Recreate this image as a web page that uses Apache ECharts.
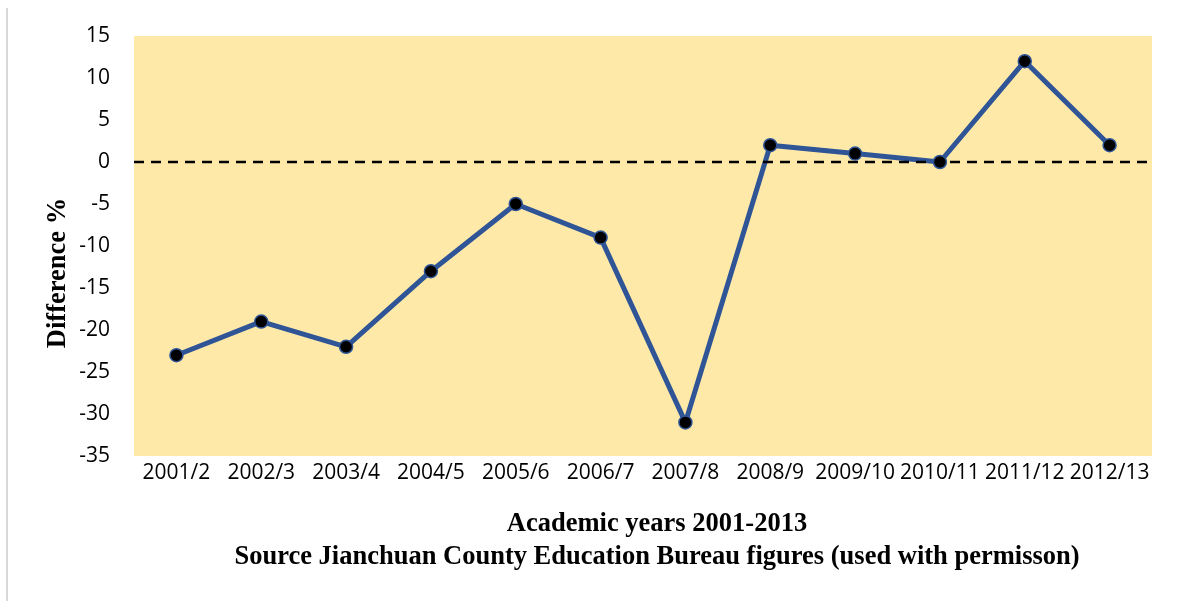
<!DOCTYPE html>
<html><head><meta charset="utf-8">
<script src="https://cdn.jsdelivr.net/npm/echarts@6/dist/echarts.min.js"></script>
<style>html,body{margin:0;padding:0;background:#fff}#c{width:1203px;height:601px}</style>
</head><body><div id="c"></div>
<script>
const categories = ["2001/2","2002/3","2003/4","2004/5","2005/6","2006/7","2007/8","2008/9","2009/10","2010/11","2011/12","2012/13"];
const differenceValues = [-23,-19,-22,-13,-5,-9,-31,2,1,0,12,2];
const referenceLine = [[0,0],[1,0]];
const yAxisTitle = "Difference %";
const xAxisTitleLines = ["Academic years 2001-2013","Source Jianchuan County Education Bureau figures (used with permisson)"];

const titleFont = 'bold 26.5px "Liberation Serif"';
const chart = echarts.init(document.getElementById('c'));
chart.setOption({
  animation:false,
  backgroundColor:'#fff',
  grid:{left:134,right:51,top:36,bottom:145,show:true,backgroundColor:'#FFE9A8',borderWidth:0},
  graphic:[
    {type:'line',shape:{x1:7,y1:8,x2:7,y2:601},style:{stroke:'#d9d9d9',lineWidth:2}},
    {type:'text',x:657,y:524,style:{text:xAxisTitleLines[0],font:titleFont,fill:'#000',align:'center',verticalAlign:'middle'}},
    {type:'text',x:657,y:557,style:{text:xAxisTitleLines[1],font:titleFont,fill:'#000',align:'center',verticalAlign:'middle'}},
    {type:'text',x:58,y:273,rotation:Math.PI/2,style:{text:yAxisTitle,font:titleFont,fill:'#000',align:'center',verticalAlign:'middle'}}
  ],
  xAxis:[
    {type:'category',data:categories,boundaryGap:true,
      axisLine:{show:false},axisTick:{show:false},
      axisLabel:{color:'#000',fontFamily:'Open Sans',fontSize:21,margin:7,interval:0}},
    {type:'value',min:0,max:1,show:false}
  ],
  yAxis:{type:'value',min:-35,max:15,interval:5,
    axisLine:{show:false},axisTick:{show:false},splitLine:{show:false},
    axisLabel:{color:'#000',fontFamily:'Open Sans',fontSize:21,margin:24}},
  series:[
    {type:'line',data:differenceValues,showSymbol:false,
      lineStyle:{color:'#2F5597',width:5},z:2},
    {type:'line',xAxisIndex:1,data:referenceLine,showSymbol:false,
      lineStyle:{color:'#000',type:[10,7],width:2.5},z:3},
    {type:'scatter',data:differenceValues,symbol:'circle',symbolSize:13,
      itemStyle:{color:'#000',borderColor:'#2F5597',borderWidth:1.5,opacity:1},z:4}
  ]
});
</script></body></html>
